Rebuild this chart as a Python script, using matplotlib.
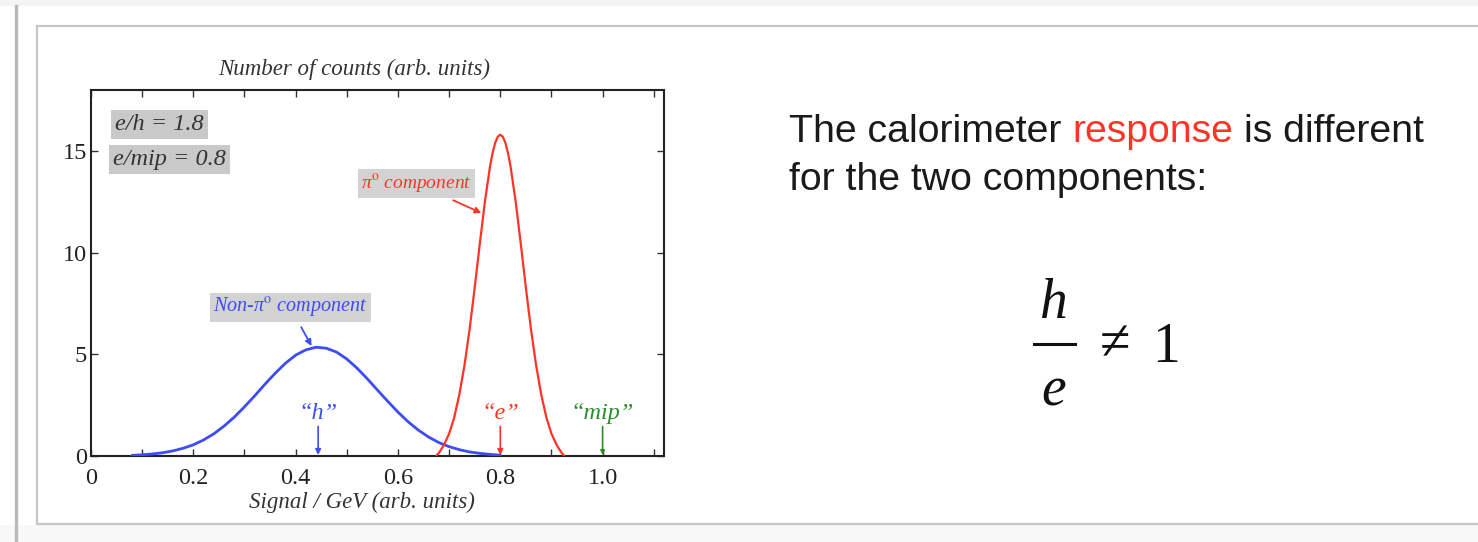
import matplotlib
matplotlib.use("Agg")
import matplotlib.pyplot as plt
from matplotlib.patches import Rectangle
from matplotlib.lines import Line2D
from matplotlib.ticker import MultipleLocator

# ---- data -------------------------------------------------------------
# non-pi0 (hadronic) component
blue_x = [0.08, 0.10, 0.12, 0.14, 0.16, 0.18, 0.20, 0.22, 0.24, 0.26, 0.28,
          0.30, 0.32, 0.34, 0.36, 0.38, 0.40, 0.42, 0.44, 0.46, 0.48, 0.50,
          0.52, 0.54, 0.56, 0.58, 0.60, 0.62, 0.64, 0.66, 0.68, 0.70, 0.72,
          0.74, 0.76, 0.78, 0.80]
blue_y = [0.03, 0.06, 0.10, 0.16, 0.25, 0.38, 0.55, 0.79, 1.09, 1.47, 1.91,
          2.42, 2.96, 3.53, 4.07, 4.56, 4.96, 5.22, 5.35, 5.30, 5.11, 4.77,
          4.32, 3.80, 3.24, 2.69, 2.16, 1.68, 1.27, 0.93, 0.66, 0.46, 0.31,
          0.20, 0.13, 0.08, 0.04]

# pi0 (electromagnetic) component
red_x = [0.675, 0.68, 0.69, 0.70, 0.71, 0.72, 0.73, 0.74, 0.75, 0.76, 0.77,
         0.78, 0.785, 0.79, 0.795, 0.80, 0.805, 0.81, 0.815, 0.82, 0.83,
         0.84, 0.85, 0.86, 0.87, 0.88, 0.89, 0.90, 0.91, 0.92, 0.925]
red_y = [0.02, 0.15, 0.55, 1.10, 1.90, 3.03, 4.46, 6.23, 8.28, 10.45, 12.52,
         14.25, 14.91, 15.40, 15.70, 15.80, 15.70, 15.40, 14.91, 14.25, 12.52,
         10.45, 8.28, 6.23, 4.46, 3.03, 1.90, 1.10, 0.55, 0.15, 0.02]

# characteristic signals: "h", "e", "mip"
marker_x = [0.444, 0.80, 1.00]
marker_labels = ["\u201ch\u201d", "\u201ce\u201d", "\u201cmip\u201d"]

x_ticks = [0, 0.2, 0.4, 0.6, 0.8, 1.0]
x_tick_labels = ["0", "0.2", "0.4", "0.6", "0.8", "1.0"]
y_ticks = [0, 5, 10, 15]

ratio_labels = ["e/h = 1.8", "e/mip = 0.8"]

# ---- styling ------------------------------------------------------------
W, H = 1478, 542
BLUE = "#3d4cf5"
RED = "#ff3326"
GREEN = "#2a8c2a"
SERIF = ["Liberation Serif", "DejaVu Serif"]
SANS = ["Liberation Sans", "DejaVu Sans"]
plt.rcParams["mathtext.fontset"] = "stix"


def fx(px):
    return px / W


def fy(py):
    return 1 - py / H


fig = plt.figure(figsize=(W / 100, H / 100), dpi=100, facecolor="white")

# slide frame
fig.add_artist(Rectangle((0, fy(6)), 1, 6 / H, transform=fig.transFigure,
                         facecolor="#f4f4f4", edgecolor="none", zorder=-5))
fig.add_artist(Rectangle((0, 0), 1, 17 / H, transform=fig.transFigure,
                         facecolor="#f8f8f8", edgecolor="none", zorder=-5))
fig.add_artist(Line2D([fx(16), fx(16)], [fy(6), 0], transform=fig.transFigure,
                      color="#b9b9b9", lw=2.4, zorder=-4))
fig.add_artist(Rectangle((fx(37), fy(524)), fx(1490 - 37), (524 - 26) / H,
                         transform=fig.transFigure, facecolor="white",
                         edgecolor="#c6c6c6", lw=1.6, zorder=-3))

# ---- plot ----------------------------------------------------------------
ax = fig.add_axes([fx(91), fy(456), fx(664 - 91), (456 - 90) / H])
ax.set_facecolor("none")
ax.plot(blue_x, blue_y, color=BLUE, lw=2.0, solid_capstyle="round", zorder=3)
ax.plot(red_x, red_y, color=RED, lw=1.6, solid_capstyle="round", zorder=3)

ax.set_xlim(0, 1.12)
ax.set_ylim(0, 18)
ax.set_xticks(x_ticks)
ax.set_xticklabels(x_tick_labels)
ax.xaxis.set_minor_locator(MultipleLocator(0.1))
ax.set_yticks(y_ticks)
ax.tick_params(which="both", direction="in", top=True, right=True,
               length=5, width=1.0, color="#333333")
ax.tick_params(axis="x", pad=9)
ax.tick_params(axis="y", pad=3)
for lab in ax.get_xticklabels() + ax.get_yticklabels():
    lab.set_fontfamily(SERIF)
    lab.set_fontsize(17.5)
    lab.set_color("#222222")
for sp in ax.spines.values():
    sp.set_linewidth(1.5)
    sp.set_color("#222222")

fig.text(fx(354), fy(69), "Number of counts (arb. units)", family=SERIF,
         style="italic", fontsize=16.5, color="#333333", ha="center",
         va="center")
fig.text(fx(362), fy(502), "Signal / GeV (arb. units)", family=SERIF,
         style="italic", fontsize=16.5, color="#333333", ha="center",
         va="center")

# ratio boxes
ax.text(0.047, 16.3, ratio_labels[0], family=SERIF, style="italic",
        fontsize=17.5, color="#333333", va="center", ha="left",
        bbox=dict(boxstyle="square,pad=0.16", facecolor="#c9c9c9",
                  edgecolor="none"))
ax.text(0.043, 14.6, ratio_labels[1], family=SERIF, style="italic",
        fontsize=17.5, color="#333333", va="center", ha="left",
        bbox=dict(boxstyle="square,pad=0.16", facecolor="#c9c9c9",
                  edgecolor="none"))

# component labels with arrows
ax.annotate("\u03c0$^{\\mathrm{o}}$ component", xy=(0.763, 11.95),
            xytext=(0.636, 13.4), family=SERIF, style="italic", fontsize=14,
            color=RED, va="center", ha="center",
            bbox=dict(boxstyle="square,pad=0.15", facecolor="#d3d3d3",
                      edgecolor="none"),
            arrowprops=dict(arrowstyle="-|>", color=RED, lw=1.3,
                            mutation_scale=9, shrinkA=4, shrinkB=0))
ax.annotate("Non-\u03c0$^{\\mathrm{o}}$ component", xy=(0.431, 5.41),
            xytext=(0.39, 7.3), family=SERIF, style="italic", fontsize=14.5,
            color=BLUE, va="center", ha="center",
            bbox=dict(boxstyle="square,pad=0.15", facecolor="#d3d3d3",
                      edgecolor="none"),
            arrowprops=dict(arrowstyle="-|>", color=BLUE, lw=1.3,
                            mutation_scale=9, shrinkA=4, shrinkB=0))

# characteristic signal markers
for xm, lab, col in zip(marker_x, marker_labels, [BLUE, RED, GREEN]):
    ax.text(xm, 2.1, lab, family=SERIF, style="italic", fontsize=17.5,
            color=col, ha="center", va="center")
    ax.annotate("", xy=(xm, 0.05), xytext=(xm, 1.45),
                arrowprops=dict(arrowstyle="-|>", color=col, lw=1.2,
                                mutation_scale=8 if col != GREEN else 6,
                                shrinkA=0, shrinkB=0))

# ---- right-hand statement -------------------------------------------------
renderer = fig.canvas.get_renderer()
x0 = fx(789)
line1_y = fy(142)
line2_y = fy(190)
txt_kw = dict(family=SANS, fontsize=28.3, va="baseline", ha="left")

pre = "The calorimeter "
word = "response"
post = " is different"


def width_px(s):
    t = fig.text(0, 0, s, **txt_kw)
    w = t.get_window_extent(renderer).width
    t.remove()
    return w


w_pre_word = width_px(pre + word)
w_word = width_px(word)
w_all = width_px(pre + word + post)
w_post = width_px(post.strip())

fig.text(x0, line1_y, pre.strip(), color="#1a1a1a", **txt_kw)
fig.text(x0 + (w_pre_word - w_word) / W, line1_y, word, color=RED, **txt_kw)
fig.text(x0 + (w_all - w_post) / W, line1_y, post.strip(), color="#1a1a1a",
         **txt_kw)
fig.text(x0, line2_y, "for the two components:", color="#1a1a1a", **txt_kw)

# h / e != 1
fig.text(fx(1054), fy(318), "h", family=SERIF, style="italic", fontsize=40,
         color="#111111", ha="center", va="baseline")
fig.add_artist(Line2D([fx(1034), fx(1075)], [fy(344), fy(344)],
                      transform=fig.transFigure, color="#111111", lw=2.2))
fig.text(fx(1054), fy(406), "e", family=SERIF, style="italic", fontsize=40,
         color="#111111", ha="center", va="baseline")
fig.text(fx(1115), fy(345), "\u2260", family=SERIF, fontsize=40,
         color="#111111", ha="center", va="center")
fig.text(fx(1152), fy(362), "1", family=SERIF, fontsize=40,
         color="#111111", ha="left", va="baseline")

fig.savefig("out.png", dpi=100, facecolor=fig.get_facecolor())
